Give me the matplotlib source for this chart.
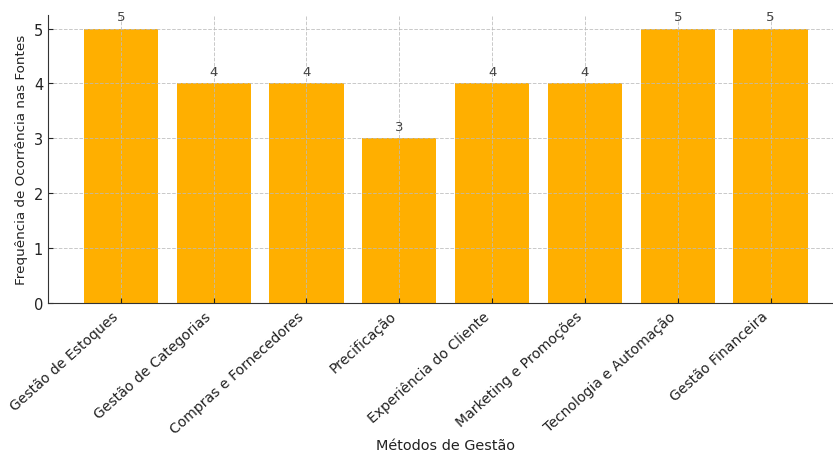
import matplotlib
matplotlib.use("Agg")
import matplotlib.pyplot as plt

# data
metodos = ["Gestão de Estoques", "Gestão de Categorias", "Compras e Fornecedores",
           "Precificação", "Experiência do Cliente", "Marketing e Promoções",
           "Tecnologia e Automação", "Gestão Financeira"]
frequencia = [5, 4, 4, 3, 4, 4, 5, 5]

fig = plt.figure(figsize=(8.33, 4.52), dpi=100)
ax = fig.add_axes([0.0576, 0.327, 0.955, 0.638])

bars = ax.bar(metodos, frequencia, color="#FFAF00", width=0.8)

# value labels
for i, v in enumerate(frequencia):
    ax.text(i, v + 0.1, str(v), ha="center", va="bottom", fontsize=9.5, color="#444444")

ax.set_ylim(0, 5.25)
ax.set_xlim(-0.785, 7.785)
ax.set_ylabel("Frequência de Ocorrência nas Fontes", fontsize=9.7, color="#222222", labelpad=4)
ax.set_xlabel("Métodos de Gestão", fontsize=10.4, color="#222222")
ax.xaxis.set_label_coords(0.5, -0.468)
plt.setp(ax.get_xticklabels(), rotation=42, ha="right")
ax.tick_params(axis="x", labelsize=10.1, colors="#222222", direction="in", pad=4)
ax.tick_params(axis="y", labelsize=10.5, colors="#222222", direction="in")
ax.grid(True, linestyle="--", color="#bbbbbb", linewidth=0.7, alpha=0.8)

for s in ["top", "right"]:
    ax.spines[s].set_visible(False)
for s in ["left", "bottom"]:
    ax.spines[s].set_color("#333333")

fig.savefig("out.png", dpi=100)
